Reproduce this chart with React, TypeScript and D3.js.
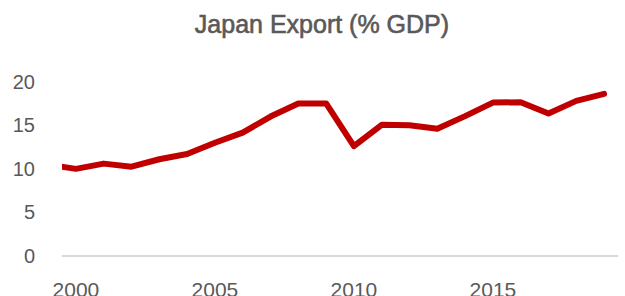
import React, { useEffect, useRef } from "react";
import * as d3 from "d3";

const years = [1999, 2000, 2001, 2002, 2003, 2004, 2005, 2006, 2007, 2008, 2009, 2010, 2011, 2012, 2013, 2014, 2015, 2016, 2017, 2018, 2019];
const exportShare = [10.5, 10.0, 10.6, 10.25, 11.1, 11.7, 13.0, 14.15, 16.0, 17.5, 17.5, 12.6, 15.05, 15.0, 14.6, 16.05, 17.6, 17.65, 16.35, 17.8, 18.6];
const yTicks = [0, 5, 10, 15, 20];
const xTicks = [2000, 2005, 2010, 2015];
const title = "Japan Export (% GDP)";

const App = () => {
  const ref = useRef<SVGSVGElement>(null);

  useEffect(() => {
    const svg = d3.select(ref.current);
    svg.selectAll("*").remove();

    const width = 625;
    const height = 296;
    const font = "'Liberation Sans', Arial, Helvetica, sans-serif";
    const grey = "#595959";

    const x = d3.scaleLinear().domain([1999.5, 2019.5]).range([62, 618]);
    const y = d3.scaleLinear().domain([0, 20]).range([256, 81.7]);

    // title, slightly heavier than the tick labels
    svg.append("text")
      .attr("x", 322)
      .attr("y", 33)
      .attr("text-anchor", "middle")
      .attr("font-family", font)
      .attr("font-size", 25)
      .attr("fill", grey)
      .attr("stroke", grey)
      .attr("stroke-width", 0.6)
      .text(title);

    svg.append("defs").append("clipPath").attr("id", "plot")
      .append("rect").attr("x", 62).attr("y", 0).attr("width", 556).attr("height", height);

    // baseline
    svg.append("line")
      .attr("x1", x(1999.5)).attr("x2", x(2019.5))
      .attr("y1", y(0)).attr("y2", y(0))
      .attr("stroke", "#d9d9d9").attr("stroke-width", 2);

    svg.append("g").selectAll("text").data(yTicks).join("text")
      .attr("x", 35)
      .attr("y", (d) => y(d))
      .attr("dy", "0.35em")
      .attr("text-anchor", "end")
      .attr("font-family", font)
      .attr("font-size", 20)
      .attr("fill", grey)
      .text((d) => d);

    svg.append("g").selectAll("text").data(xTicks).join("text")
      .attr("x", (d) => x(d))
      .attr("y", 297)
      .attr("text-anchor", "middle")
      .attr("font-family", font)
      .attr("font-size", 21)
      .attr("fill", grey)
      .text((d) => d);

    const line = d3.line<number>()
      .x((d, i) => x(years[i]))
      .y((d) => y(d));

    svg.append("path")
      .datum(exportShare)
      .attr("clip-path", "url(#plot)")
      .attr("fill", "none")
      .attr("stroke", "#c00000")
      .attr("stroke-width", 6)
      .attr("stroke-linejoin", "round")
      .attr("stroke-linecap", "round")
      .attr("d", line);

    svg.attr("width", width).attr("height", height);
  }, []);

  return <svg ref={ref} style={{ position: "absolute", left: 0, top: 0 }}></svg>;
};

export default App;
